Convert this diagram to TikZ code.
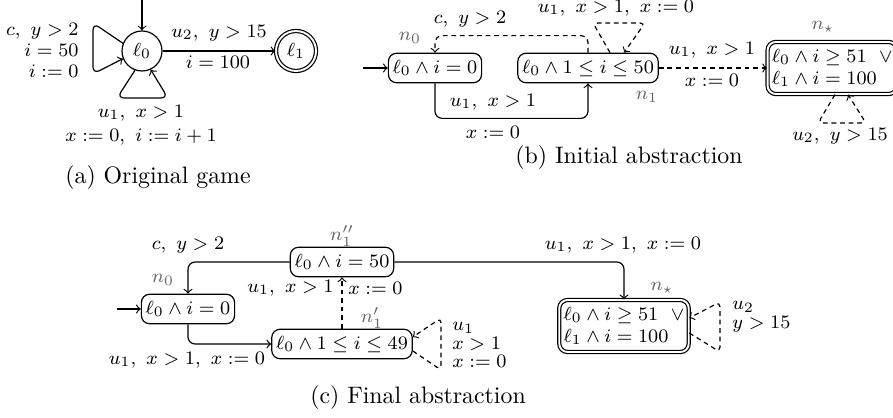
\documentclass[tikz,border=0pt]{standalone}
\usetikzlibrary{calc}
\begin{document}
\begin{tikzpicture}[x=0.42pt,y=-0.42pt,
  every node/.style={font=\fontsize{8.5}{9.2}\selectfont, inner sep=0pt},
  ln/.style={line width=0.5pt},
  arr/.style={ln,->},
  dsh/.style={dash pattern=on 2pt off 1.6pt},
  st/.style={draw, rounded corners=3.5pt, inner xsep=1.8pt, inner ysep=2.4pt, text height=6pt, text depth=1.6pt, line width=0.5pt},
  acc/.style={draw, rounded corners=3.5pt, inner xsep=1.8pt, inner ysep=3pt, line width=0.5pt, double, double distance=0.8pt, align=left},
  loc/.style={draw, circle, minimum size=16.8pt, line width=0.5pt},
  nl/.style={text=black!60},
  capt/.style={font=\fontsize{10}{12}\selectfont}]
\useasboundingbox (0,0) rectangle (893,418);

% (a) Original game
\node[loc] (l0) at (142,51) {$\ell_0$};
\node[loc, double, double distance=0.8pt] (l1) at (296,51) {$\ell_1$};
\coordinate (ai) at (142,0);
\draw[arr] (ai) -- (l0);
\draw[arr] (l0) -- (l1);
\node at (219,33) {$u_2,\ y>15$};
\node at (218,62) {$i=100$};
\draw[arr, rounded corners=3pt] (l0.158) -- (93,23) -- (93,74) -- (l0.202);
\node[anchor=east, align=right, font=\fontsize{8.5}{8.8}\selectfont] at (79,50) {$c,\ y>2$\\$i=50$\\$i:=0$};
\draw[arr, rounded corners=3pt] (l0.250) -- (117,98) -- (168,98) -- (l0.295);
\node at (141,113) {$u_1,\ x>1$};
\node at (141,137) {$x:=0,\ i:=i+1$};
\node[capt] at (158,178) {(a) Original game};

% (b) Initial abstraction
\node[st] (b0) at (435,68) {$\ell_0\wedge i=0$};
\node[st] (b1) at (588,68) {$\ell_0\wedge 1\leq i\leq 50$};
\node[acc, anchor=west] (bs) at (767,68) {$\ell_0\wedge i\geq 51\ \;\vee$\\$\ell_1\wedge i=100$};
\node[nl] at (410,38) {$n_0$};
\node[nl] at (647,97) {$n_1$};
\node[nl] at (823,27) {$n_\star$};
\coordinate (bi) at (363,68);
\draw[arr] (bi) -- (b0);
\draw[arr, rounded corners=3pt] (b0.south) -- ++(0,35) -| (b1.south);
\node at (493,102) {$u_1,\ x>1$};
\node at (493,132) {$x:=0$};
\draw[arr, dsh, rounded corners=3pt] (b1.north) -- ++(0,-17) -| (b0.north);
\node at (470,19) {$c,\ y>2$};
\draw[arr, dsh, rounded corners=2pt] ($(b1.north)+(22,0)$) -- (593,23) -- (645,23) -- ($(b1.north)+(36,0)$);
\node at (616,8) {$u_1,\ x>1,\ x:=0$};
\draw[arr, dsh] (b1) -- (bs);
\node at (712,50) {$u_1,\ x>1$};
\node at (712,80) {$x:=0$};
\draw[arr, dsh, rounded corners=2pt] ($(bs.south west)+(68,0)$) -- (818,123) -- (866,123) -- ($(bs.south west)+(81,0)$);
\node at (840,136) {$u_2,\ y>15$};
\node[capt] at (629,158) {(b) Initial abstraction};

% (c) Final abstraction
\node[st] (c0) at (188,309) {$\ell_0\wedge i=0$};
\node[st] (c1pp) at (342,262) {$\ell_0\wedge i=50$};
\node[st] (c1p) at (342,344) {$\ell_0\wedge 1\leq i\leq 49$};
\node[acc] (cs) at (624,326) {$\ell_0\wedge i\geq 51\ \;\vee$\\$\ell_1\wedge i=100$};
\node[nl] at (163,280) {$n_0$};
\node[nl] at (342,236) {$n''_1$};
\node[nl] at (372,318) {$n'_1$};
\node[nl] at (662,288) {$n_\star$};
\coordinate (ci) at (117,309);
\draw[arr] (ci) -- (c0);
\draw[arr, rounded corners=3pt] (c1pp.west) -| (c0.north);
\node at (188,245) {$c,\ y>2$};
\draw[arr, rounded corners=3pt] (c0.south) |- (c1p.west);
\node at (187,360) {$u_1,\ x>1,\ x:=0$};
\draw[arr, rounded corners=3pt] (c1pp.east) -| (cs.north);
\node at (623,245) {$u_1,\ x>1,\ x:=0$};
\draw[arr, dsh] (c1p.north) -- (c1pp.south);
\node[anchor=east] at (334,288) {$u_1,\ x>1$};
\node[anchor=west] at (348,288) {$x:=0$};
\draw[arr, dsh, rounded corners=2pt] ($(c1p.east)+(0,7)$) -- (441,370) -- (441,318) -- ($(c1p.east)+(0,-7)$);
\node[anchor=west, align=left, font=\fontsize{8.5}{7.6}\selectfont] at (452,345) {$u_1$\\$x>1$\\$x:=0$};
\draw[arr, dsh, rounded corners=2pt] ($(cs.east)+(0,7)$) -- (720,352) -- (720,302) -- ($(cs.east)+(0,-8)$);
\node[anchor=west, align=left, font=\fontsize{8.5}{8}\selectfont] at (732,317) {$u_2$\\$y>15$};
\node[capt] at (418,398) {(c) Final abstraction};
\end{tikzpicture}
\end{document}
